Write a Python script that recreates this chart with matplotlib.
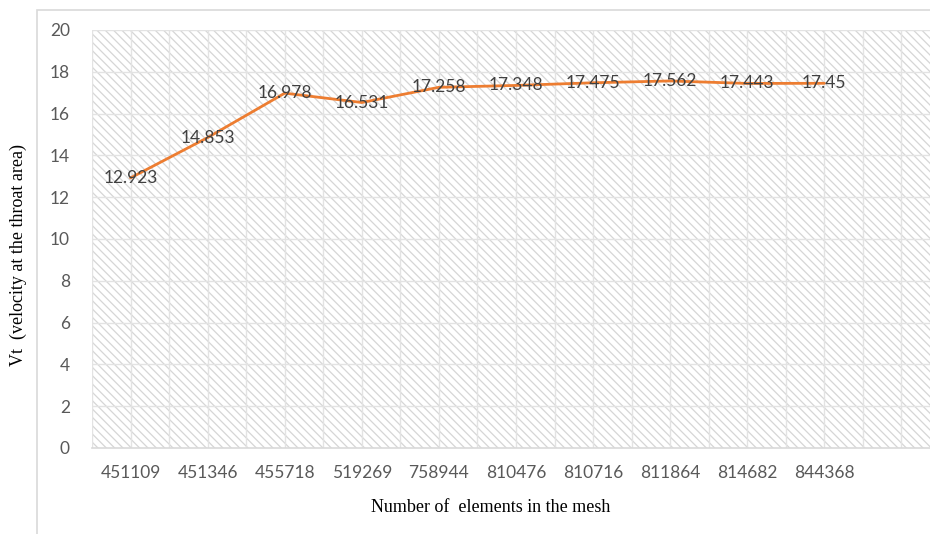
import matplotlib
matplotlib.use("Agg")
import matplotlib.pyplot as plt
from matplotlib.patches import Rectangle
import numpy as np

mesh_sizes = ["451109", "451346", "455718", "519269", "758944",
              "810476", "810716", "811864", "814682", "844368"]
vt_values = [12.923, 14.853, 16.978, 16.531, 17.258,
             17.348, 17.475, 17.562, 17.443, 17.45]
value_labels = ["12.923", "14.853", "16.978", "16.531", "17.258",
                "17.348", "17.475", "17.562", "17.443", "17.45"]
y_ticks = [0, 2, 4, 6, 8, 10, 12, 14, 16, 18, 20]

W, H = 930, 534
plt.rcParams["hatch.linewidth"] = 0.9
plt.rcParams["hatch.color"] = "#d6d6d6"

fig = plt.figure(figsize=(W / 100, H / 100), dpi=100)

# outer chart frame
fig.patches.append(Rectangle((37 / W, -0.1), 2.0, (H - 10) / H + 0.1,
                             transform=fig.transFigure, fill=False,
                             edgecolor="#d9d9d9", linewidth=1.2))

ax = fig.add_axes([92 / W, (H - 448) / H, 848 / W, 418 / H])
ax.set_xlim(-0.5, len(mesh_sizes) + 0.5)
ax.set_ylim(0, 20)

# patterned plot area
ax.add_patch(Rectangle((0, 0), 1, 1, transform=ax.transAxes,
                       facecolor="white", edgecolor="#d6d6d6",
                       linewidth=0, hatch="\\\\\\\\", zorder=0))

# gridlines
for gx in np.arange(-0.5, len(mesh_sizes) + 0.51, 0.5):
    ax.axvline(gx, color="#e3e3e3", linewidth=1.0, zorder=1)
for gy in y_ticks[1:]:
    ax.axhline(gy, color="#e3e3e3", linewidth=1.0, zorder=1)

x = np.arange(len(mesh_sizes))
ax.plot(x, vt_values, color="#ED7D31", linewidth=2.0, zorder=3,
        solid_capstyle="round")

for xi, yi, lab in zip(x, vt_values, value_labels):
    ax.text(xi, yi, lab, ha="center", va="center", fontsize=12.5,
            family="Lato", color="#404040", zorder=4)

for s in ["top", "right", "left"]:
    ax.spines[s].set_visible(False)
ax.spines["bottom"].set_color("#d9d9d9")
ax.spines["bottom"].set_linewidth(1.2)

ax.set_xticks(x)
ax.set_xticklabels(mesh_sizes)
ax.set_yticks(y_ticks)
ax.tick_params(axis="both", length=0, labelsize=12.5, labelcolor="#595959")
ax.tick_params(axis="x", pad=12)
ax.tick_params(axis="y", pad=16)
for lab in ax.get_xticklabels() + ax.get_yticklabels():
    lab.set_family("Lato")

fig.text(491 / W, 1 - 508 / H, "Number of  elements in the mesh",
         ha="center", va="center", family="Liberation Serif",
         fontsize=13, color="black")
fig.text(18 / W, 1 - 255 / H, "Vt  (velocity at the throat area)",
         ha="center", va="center", rotation=90, family="Liberation Serif",
         fontsize=13, color="black")

fig.savefig("out.png", dpi=100)
